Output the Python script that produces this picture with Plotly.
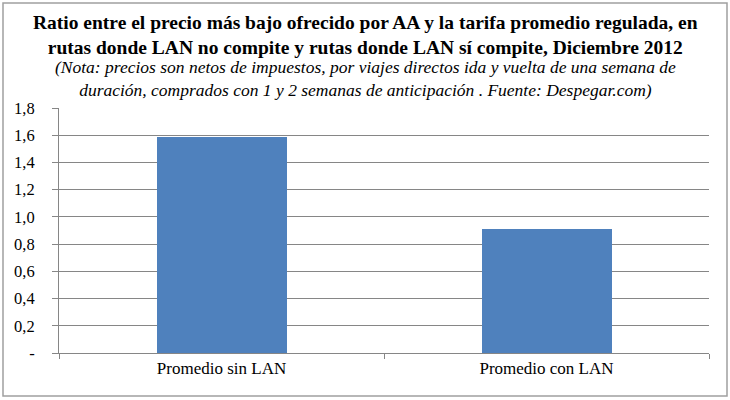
import plotly.graph_objects as go

# Datos
categorias = ["Promedio sin LAN", "Promedio con LAN"]
ratios = [1.59, 0.91]
ticks_y = [0, 0.2, 0.4, 0.6, 0.8, 1.0, 1.2, 1.4, 1.6, 1.8]
etiquetas_y = ["-", "0,2", "0,4", "0,6", "0,8", "1,0", "1,2", "1,4", "1,6", "1,8"]

titulo = ("Ratio entre el precio más bajo ofrecido por AA y la tarifa promedio regulada, en<br>"
          "rutas donde LAN no compite y rutas donde LAN sí compite, Diciembre 2012")
nota = ("(Nota: precios son netos de impuestos, por viajes directos ida y vuelta de una semana de<br>"
        "duración, comprados con 1 y 2 semanas de anticipación . Fuente: Despegar.com)")

W, H = 730, 400
L, R, T, B = 59, 21, 108, 47

fig = go.Figure()
fig.add_trace(go.Bar(
    x=list(range(len(categorias))),
    y=ratios,
    width=0.4,
    marker=dict(color="#4F81BD", line=dict(width=0)),
    showlegend=False,
    hoverinfo="skip",
))
# eje auxiliar solo para las marcas entre categorías
fig.add_trace(go.Scatter(x=[-0.5, 1.5], y=[None, None], xaxis="x2", showlegend=False))

fuente = "Liberation Serif"

fig.update_layout(
    width=W, height=H,
    margin=dict(l=L, r=R, t=T, b=B, pad=0),
    paper_bgcolor="white", plot_bgcolor="white",
    font=dict(family=fuente, size=16, color="black"),
    bargap=0,
    xaxis=dict(
        range=[-0.5, 1.5],
        tickvals=list(range(len(categorias))),
        ticktext=categorias,
        ticks="", showgrid=False, zeroline=False,
        showline=True, linecolor="#868686", linewidth=1,
        tickfont=dict(family=fuente, size=17),
        fixedrange=True,
    ),
    xaxis2=dict(
        overlaying="x", range=[-0.5, 1.5],
        tickvals=[-0.5, 0.5, 1.5], ticks="outside", ticklen=5,
        tickcolor="#868686", showticklabels=False, showgrid=False,
        zeroline=False, showline=False, anchor="y",
    ),
    yaxis=dict(
        range=[0, 1.8],
        tickvals=ticks_y, ticktext=etiquetas_y,
        ticks="outside", ticklen=6, tickcolor="#868686",
        showgrid=True, gridcolor="#868686", gridwidth=1,
        zeroline=False, showline=True, linecolor="#868686", linewidth=1,
        tickfont=dict(family=fuente, size=16.5),
        ticklabelstandoff=14,
    ),
)

pw, ph = W - L - R, H - T - B
px = lambda v: (v - L) / pw
py = lambda v: (H - B - v) / ph

fig.add_annotation(
    text="<b>" + titulo + "</b>", xref="paper", yref="paper",
    x=px(365), y=py(10), xanchor="center", yanchor="top", showarrow=False,
    font=dict(family=fuente, size=19.5, color="black"), align="center",
)
fig.add_annotation(
    text="<i>" + nota + "</i>", xref="paper", yref="paper",
    x=px(365), y=py(55), xanchor="center", yanchor="top", showarrow=False,
    font=dict(family=fuente, size=17.5, color="black"), align="center",
)

# borde del gráfico
fig.add_shape(type="rect", xref="paper", yref="paper",
              x0=px(3), x1=px(727), y0=py(396), y1=py(3),
              line=dict(color="#A0A0A0", width=1.5), layer="above")

fig.write_html("out.html", config={"displayModeBar": False},
               post_script="document.body.style.margin='0';")
